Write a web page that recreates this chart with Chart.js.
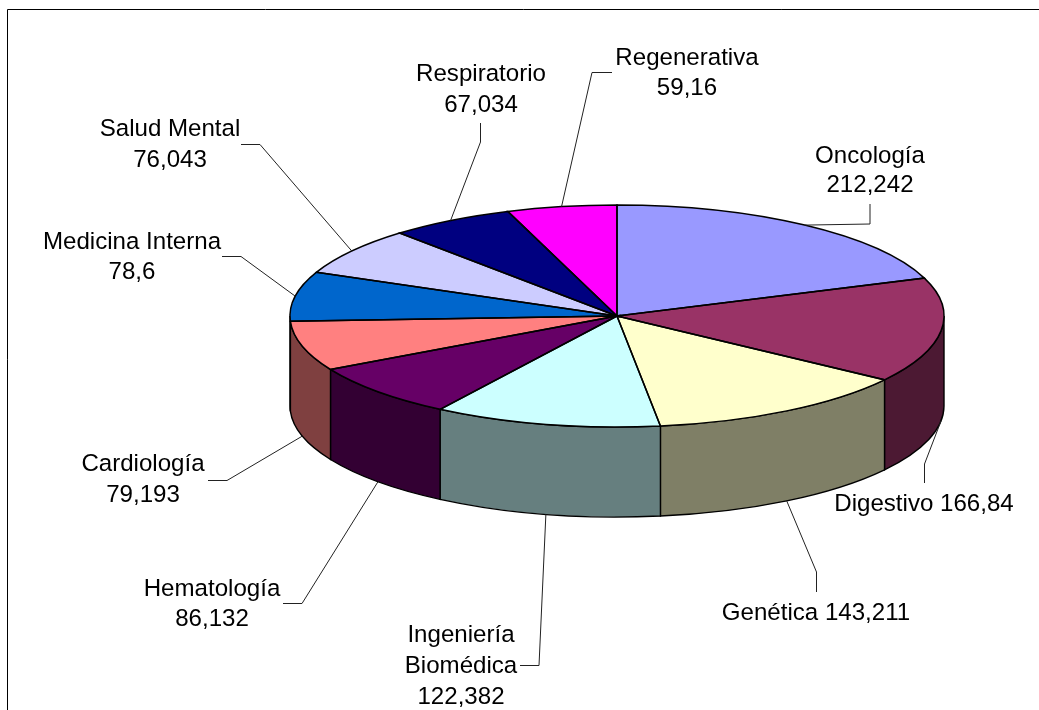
<!DOCTYPE html>
<html>
<head>
<meta charset="utf-8">
<style>
  html, body { margin: 0; padding: 0; background: #fff; overflow: hidden; }
  canvas { display: block; }
</style>
<script src="https://cdn.jsdelivr.net/npm/chart.js@4"></script>
</head>
<body>
<canvas id="pie3d" width="1039" height="710"></canvas>
<script>
var areas = ["Oncología", "Digestivo", "Genética", "Ingeniería Biomédica", "Hematología",
  "Cardiología", "Medicina Interna", "Salud Mental", "Respiratorio", "Regenerativa"];
var amounts = [212.242, 166.84, 143.211, 122.382, 86.132, 79.193, 78.6, 76.043, 67.034, 59.16];
var sliceColors = ["#9999FF", "#993366", "#FFFFCC", "#CCFFFF", "#660066",
  "#FF8080", "#0066CC", "#CCCCFF", "#000080", "#FF00FF"];

// where the tilted pie sits on the page
var pie = { x: 617, y: 316, rx: 327, ry: 111, depth: 90 };

// text lines, centre x, first line y, and the elbow of each leader line
var labelSetup = [
  { lines: ["Oncología", "212,242"], x: 870, y: 156, gap: 29, path: [[870, 204], [870, 224]] },
  { lines: ["Digestivo 166,84"], x: 924, y: 504, gap: 30, path: [[924.5, 483], [924.5, 464]] },
  { lines: ["Genética 143,211"], x: 816, y: 613, gap: 30, path: [[816.5, 592], [816.5, 572]] },
  { lines: ["Ingeniería", "Biomédica", "122,382"], x: 461, y: 635, gap: 31, path: [[520, 665.5], [539, 665.5]] },
  { lines: ["Hematología", "86,132"], x: 212, y: 589, gap: 30, path: [[283, 603.5], [302, 603.5]] },
  { lines: ["Cardiología", "79,193"], x: 143, y: 464, gap: 31, path: [[208, 480.5], [227, 480.5]] },
  { lines: ["Medicina Interna", "78,6"], x: 132, y: 242, gap: 30, path: [[222, 256.5], [241, 256.5]] },
  { lines: ["Salud Mental", "76,043"], x: 170, y: 129, gap: 31, path: [[241, 144.5], [260, 144.5]] },
  { lines: ["Respiratorio", "67,034"], x: 481, y: 74, gap: 31, path: [[480.5, 123], [480.5, 142]] },
  { lines: ["Regenerativa", "59,16"], x: 687, y: 58, gap: 30, path: [[612, 72.5], [592, 72.5]] }
];

function halfColor(hex) {
  var n = parseInt(hex.slice(1), 16);
  return "rgb(" + ((n >> 16) >> 1) + "," + (((n >> 8) & 255) >> 1) + "," + ((n & 255) >> 1) + ")";
}

var tiltPlugin = {
  id: "tilt",
  // side walls: only the part of each slice facing the viewer (canvas angles 0..PI)
  beforeDatasetsDraw: function(chart) {
    var ctx = chart.ctx;
    chart.getDatasetMeta(0).data.forEach(function(arc, i) {
      var a = Math.max(arc.startAngle, 0);
      var b = Math.min(arc.endAngle, Math.PI);
      if (b <= a) return;
      ctx.beginPath();
      ctx.ellipse(pie.x, pie.y, pie.rx, pie.ry, 0, a, b);
      ctx.ellipse(pie.x, pie.y + pie.depth, pie.rx, pie.ry, 0, b, a, true);
      ctx.closePath();
      ctx.fillStyle = halfColor(sliceColors[i]);
      ctx.fill();
      ctx.strokeStyle = "#000";
      ctx.lineWidth = 1.4;
      ctx.stroke();
    });
  },
  // squash the library's round pie into the ellipse
  beforeDatasetDraw: function(chart) {
    var ctx = chart.ctx;
    var arc = chart.getDatasetMeta(0).data[0];
    ctx.save();
    ctx.translate(pie.x, pie.y);
    ctx.scale(pie.rx / arc.outerRadius, pie.ry / arc.outerRadius);
    ctx.translate(-arc.x, -arc.y);
  },
  afterDatasetDraw: function(chart) {
    var ctx = chart.ctx;
    ctx.restore();
    chart.getDatasetMeta(0).data.forEach(function(arc) {
      ctx.beginPath();
      ctx.moveTo(pie.x, pie.y);
      ctx.ellipse(pie.x, pie.y, pie.rx, pie.ry, 0, arc.startAngle, arc.endAngle);
      ctx.closePath();
      ctx.strokeStyle = "#000";
      ctx.lineWidth = 1.5;
      ctx.stroke();
    });
  },
  afterDraw: function(chart) {
    var ctx = chart.ctx;
    // frame, runs off the right and bottom of the picture
    ctx.strokeStyle = "#000";
    ctx.lineWidth = 1;
    ctx.beginPath();
    ctx.moveTo(7.5, 710);
    ctx.lineTo(7.5, 9.5);
    ctx.lineTo(1039, 9.5);
    ctx.stroke();

    chart.getDatasetMeta(0).data.forEach(function(arc, i) {
      var setup = labelSetup[i];
      var mid = (arc.startAngle + arc.endAngle) / 2;
      var endX = pie.x + pie.rx * Math.cos(mid);
      var endY = pie.y + pie.ry * Math.sin(mid);
      if (Math.sin(mid) > 0) endY += pie.depth;

      ctx.strokeStyle = "#222";
      ctx.lineWidth = 1;
      ctx.beginPath();
      ctx.moveTo(setup.path[0][0], setup.path[0][1]);
      ctx.lineTo(setup.path[1][0], setup.path[1][1]);
      ctx.lineTo(endX, endY);
      ctx.stroke();

      ctx.fillStyle = "#000";
      ctx.font = "24.1px 'Liberation Sans'";
      ctx.textAlign = "center";
      ctx.textBaseline = "middle";
      setup.lines.forEach(function(line, n) {
        ctx.fillText(line, setup.x, setup.y + n * setup.gap);
      });
    });
  }
};

new Chart(document.getElementById("pie3d").getContext("2d"), {
  type: "pie",
  data: {
    labels: areas,
    datasets: [{
      data: amounts,
      backgroundColor: sliceColors,
      borderWidth: 0,
      clip: false
    }]
  },
  options: {
    responsive: false,
    animation: false,
    plugins: {
      legend: { display: false },
      tooltip: { enabled: false }
    }
  },
  plugins: [tiltPlugin]
});
</script>
</body>
</html>
